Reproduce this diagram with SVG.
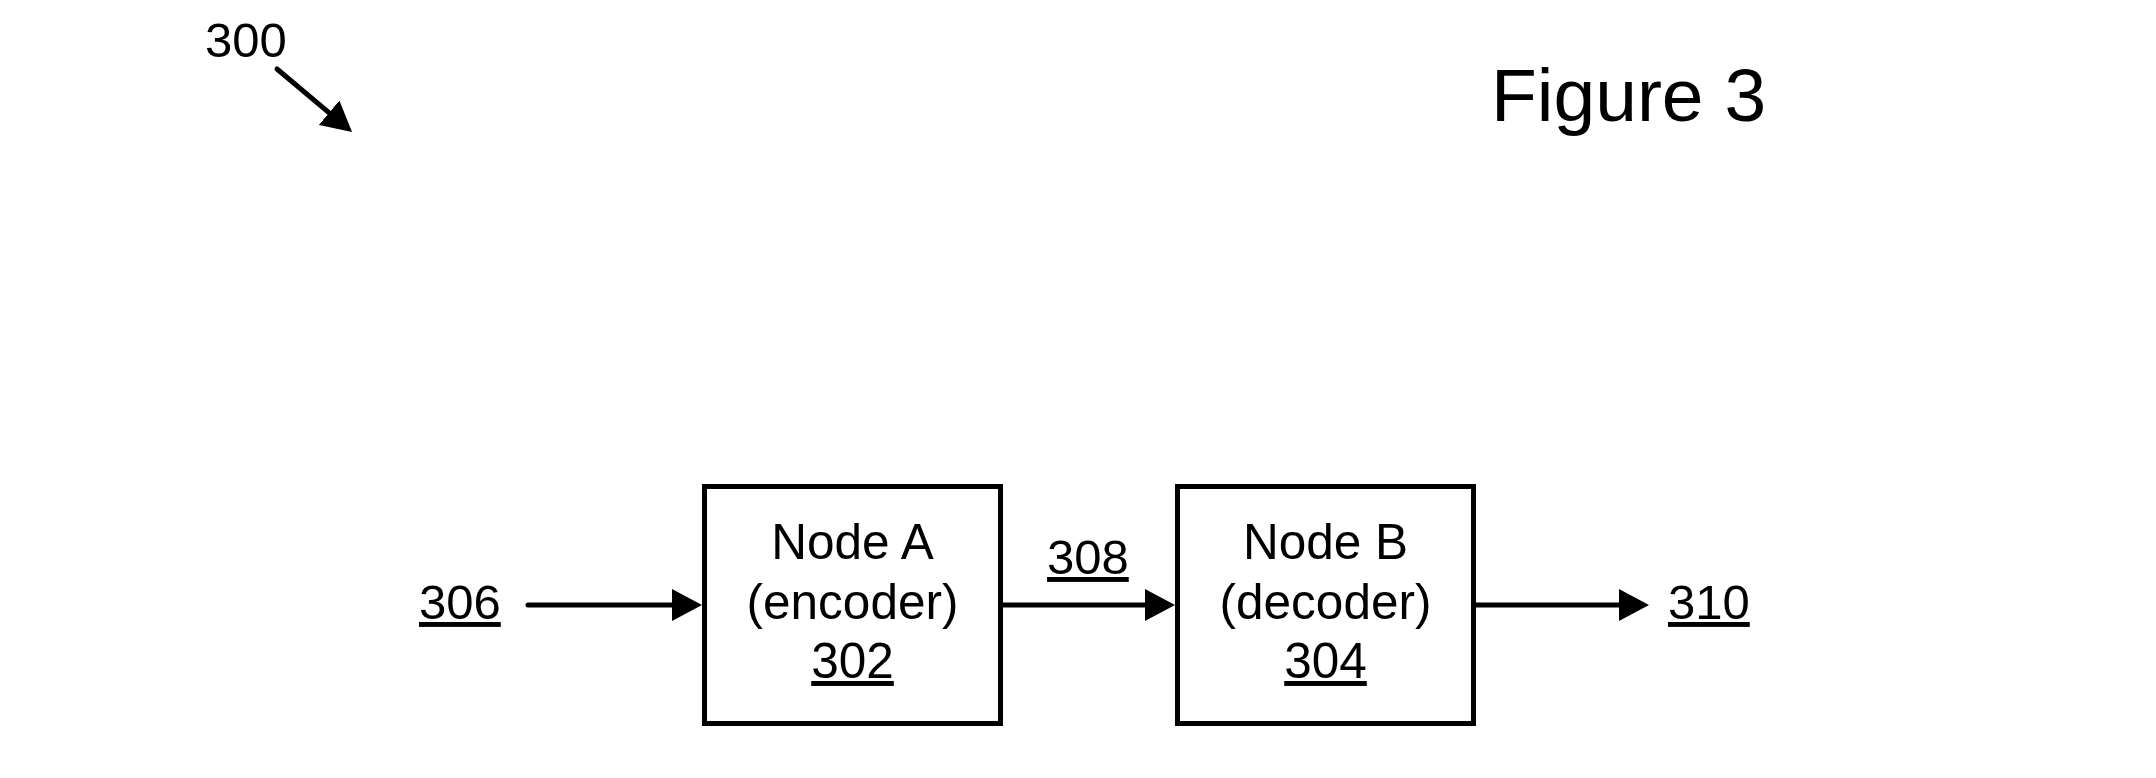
<svg xmlns="http://www.w3.org/2000/svg" width="2156" height="778" viewBox="0 0 2156 778">
<style>
text{font-family:"Liberation Sans",Arial,Helvetica,sans-serif;fill:#000}
.lbl{font-size:49px}
.nt{font-size:49.5px;text-anchor:middle}
.u{text-decoration:underline}
.box{fill:#fff;stroke:#000;stroke-width:5}
.con{stroke:#000;stroke-width:5;fill:none;stroke-linecap:round}
</style>
<defs>
<marker id="ah" viewBox="0 0 30 32" refX="20" refY="16" markerWidth="30" markerHeight="32" markerUnits="userSpaceOnUse" orient="auto">
<path d="M0,0 L30,16 L0,32 z" fill="#000"/>
</marker>
</defs>
<rect width="2156" height="778" fill="#fff"/>
<g id="fig-title"><text x="1491" y="121" style="font-size:75px">Figure 3</text></g>
<g id="ref-300"><text class="lbl" x="205" y="57">300</text></g>
<g id="node-a">
<rect class="box" x="704.5" y="486.5" width="296" height="237"/>
<text class="nt" x="852.5" y="559">Node A</text>
<text class="nt" x="852.5" y="619">(encoder)</text>
<text class="nt u" x="852.5" y="678">302</text>
</g>
<g id="node-b">
<rect class="box" x="1177.5" y="486.5" width="296" height="237"/>
<text class="nt" x="1325.5" y="559">Node B</text>
<text class="nt" x="1325.5" y="619">(decoder)</text>
<text class="nt u" x="1325.5" y="678">304</text>
</g>
<g id="labels">
<text class="lbl u" x="419" y="619">306</text>
<text class="lbl u" x="1047" y="574">308</text>
<text class="lbl u" x="1668" y="619">310</text>
</g>
<g id="connectors">
<line class="con" x1="277" y1="69" x2="344.4" y2="125.6" marker-end="url(#ah)"/>
<line class="con" x1="528" y1="605" x2="692" y2="605" marker-end="url(#ah)"/>
<line class="con" x1="1003" y1="605" x2="1165" y2="605" marker-end="url(#ah)"/>
<line class="con" x1="1476" y1="605" x2="1639" y2="605" marker-end="url(#ah)"/>
</g>
</svg>
